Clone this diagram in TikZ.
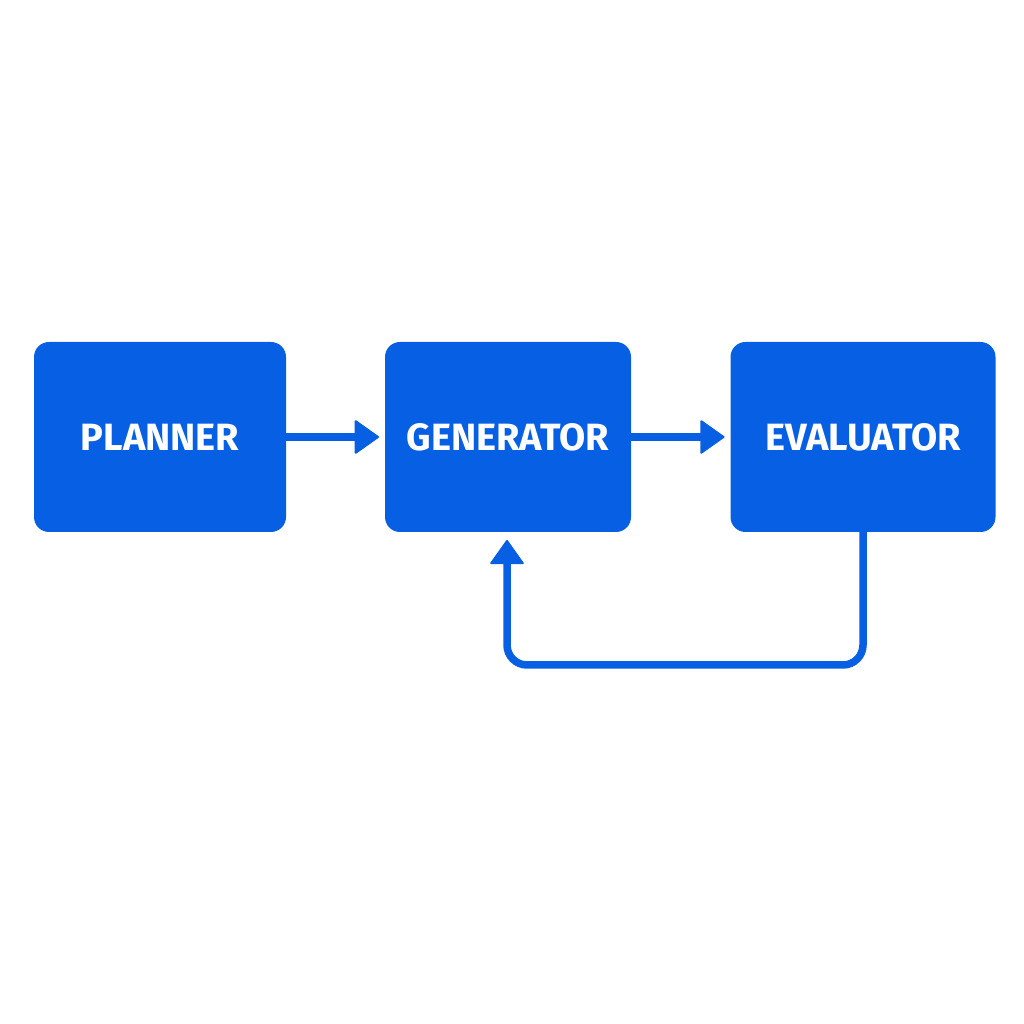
\documentclass[tikz,border=0pt]{standalone}
\usepackage{xcolor}
\usepackage{fontspec}
\setmainfont{Fira Sans}
\usetikzlibrary{arrows.meta}
\usetikzlibrary{calc}
\usetikzlibrary{positioning}
\definecolor{boxblue}{HTML}{0760E4}
\begin{document}
\begin{tikzpicture}[x=1pt,y=1pt,>={Triangle[length=25pt,width=35pt,line width=2pt,round]},line width=7.5pt]
  \tikzset{block/.style={fill=boxblue, text=white, rounded corners=15pt, minimum height=190pt, inner sep=0pt, outer sep=0pt, font=\fontsize{38}{40}\selectfont\bfseries},
    link/.style={color=boxblue, ->}}
  \useasboundingbox (0,0) rectangle (1024,1024);
  \node[block, minimum width=252pt] (P) at (160,587) {\raisebox{-2pt}{PLANNER}};
  \node[block, minimum width=246pt] (G) at (508,587) {\raisebox{-2pt}{GENERATOR}};
  \node[block, minimum width=265pt] (E) at (863,587) {\raisebox{-2pt}{EVALUATOR}};
  \coordinate (Gin) at ($(G.south)+(-1,-8)$);
  \path[link,shorten >=6pt]
     (P.east) edge (G.west)
     (G.east) edge (E.west);
  \draw[link,rounded corners=20pt] (E.south) -- ++(0,-133) -| (Gin);
\end{tikzpicture}
\end{document}
